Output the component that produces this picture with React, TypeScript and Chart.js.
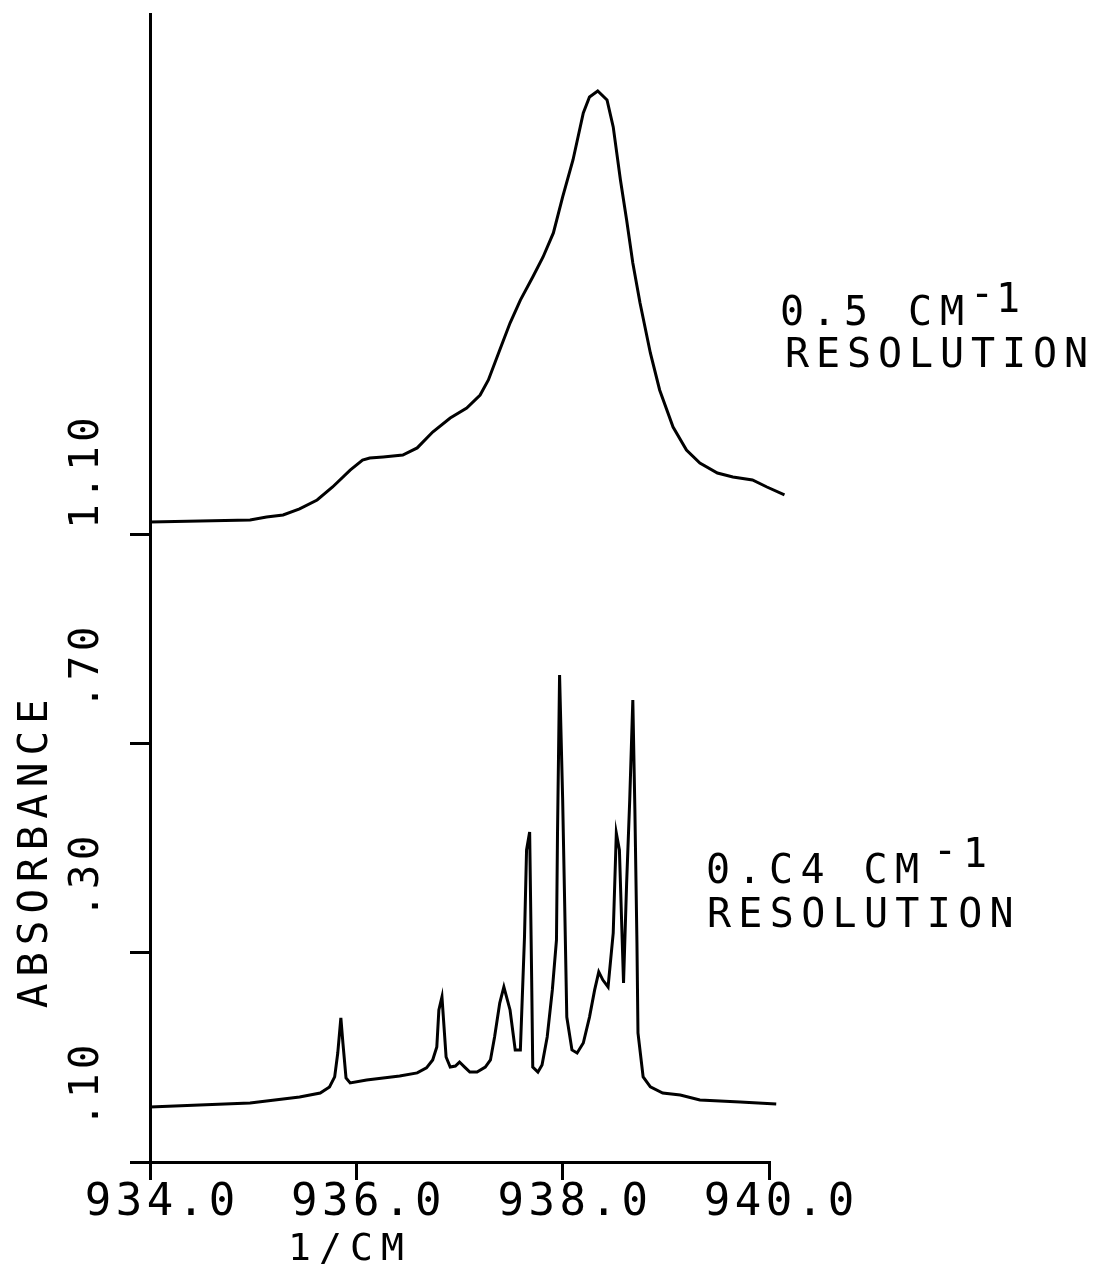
import React, { useEffect, useRef } from "react";
import { Chart, registerables } from "chart.js";

Chart.register(...registerables);

// ---- data (wavenumber in 1/CM, absorbance in plot units: one unit per y tick) ----
const upperX = [
  934.0, 934.97, 935.13, 935.29, 935.45, 935.62, 935.77, 935.94, 936.06, 936.13,
  936.26, 936.45, 936.59, 936.74, 936.91, 937.07, 937.2, 937.28, 937.39, 937.49,
  937.59, 937.71, 937.81, 937.91, 938.0, 938.1, 938.2, 938.26, 938.34, 938.43,
  938.49, 938.56, 938.62, 938.68, 938.75, 938.85, 938.94, 939.07, 939.2, 939.33,
  939.5, 939.65, 939.84, 939.98, 940.15,
];
const upperY = [
  3.061, 3.07, 3.085, 3.094, 3.123, 3.166, 3.228, 3.309, 3.357, 3.367,
  3.372, 3.381, 3.415, 3.491, 3.558, 3.606, 3.668, 3.74, 3.883, 4.012,
  4.122, 4.232, 4.328, 4.443, 4.615, 4.792, 5.017, 5.093, 5.122, 5.079,
  4.95, 4.696, 4.505, 4.299, 4.108, 3.869, 3.692, 3.515, 3.405, 3.343,
  3.295, 3.276, 3.262, 3.228, 3.19,
];
const lowerX = [
  934.0, 934.48, 934.97, 935.45, 935.65, 935.74, 935.79, 935.82, 935.85, 935.87,
  935.9, 935.94, 936.1, 936.26, 936.42, 936.59, 936.68, 936.74, 936.78, 936.8,
  936.83, 936.85, 936.87, 936.91, 936.96, 937.0, 937.05, 937.1, 937.17, 937.25,
  937.3, 937.34, 937.39, 937.43, 937.49, 937.54, 937.59, 937.63, 937.65, 937.68,
  937.7, 937.71, 937.76, 937.8, 937.85, 937.9, 937.94, 937.95, 937.97, 938.0,
  938.02, 938.04, 938.09, 938.14, 938.2, 938.26, 938.31, 938.35, 938.39, 938.44,
  938.49, 938.52, 938.55, 938.58, 938.59, 938.62, 938.65, 938.68, 938.7, 938.72,
  938.73, 938.78, 938.85, 938.97, 939.14, 939.33, 939.72, 940.07,
];
const lowerY = [
  0.263, 0.273, 0.282, 0.311, 0.33, 0.359, 0.407, 0.521, 0.689, 0.569,
  0.402, 0.378, 0.392, 0.402, 0.411, 0.426, 0.45, 0.488, 0.55, 0.727,
  0.789, 0.646, 0.502, 0.454, 0.459, 0.478, 0.454, 0.43, 0.43, 0.454,
  0.488, 0.598, 0.76, 0.837, 0.727, 0.536, 0.536, 1.076, 1.492, 1.578,
  0.856, 0.454, 0.43, 0.464, 0.598, 0.823, 1.062, 1.573, 2.329, 1.731,
  1.22, 0.693, 0.536, 0.521, 0.569, 0.693, 0.823, 0.909, 0.87, 0.837,
  1.095, 1.573, 1.492, 1.014, 0.856, 1.334, 1.731, 2.209, 1.683, 1.047,
  0.617, 0.407, 0.359, 0.33, 0.32, 0.297, 0.287, 0.277,
];

const xTickValues = [934, 936, 938, 940];
const xTickLabels = ["934.0", "936.0", "938.0", "940.0"];
const yTickValues = [0, 1, 2, 3];
const yTickLabels = [".10", ".30", ".70", "1.10"];
const xTitle = "1/CM";
const yTitle = "ABSORBANCE";
const upperNote = ["0.5 CM", "RESOLUTION"];
const lowerNote = ["0.C4 CM", "RESOLUTION"];
const noteSup = ["-", "1"];

const FONT = '"DejaVu Sans Mono", monospace';

function drawRow(ctx: CanvasRenderingContext2D, text: string, x0: number, pitch: number, baseY: number) {
  for (let i = 0; i < text.length; i++) {
    if (text[i] === " ") continue;
    ctx.fillText(text[i], x0 + i * pitch, baseY);
  }
}

function drawRowUp(ctx: CanvasRenderingContext2D, text: string, baseX: number, y0: number, pitch: number) {
  // text reads bottom-to-top; y0 = centre of first character
  for (let i = 0; i < text.length; i++) {
    if (text[i] === " ") continue;
    ctx.save();
    ctx.translate(baseX, y0 - i * pitch);
    ctx.rotate(-Math.PI / 2);
    ctx.fillText(text[i], 0, 0);
    ctx.restore();
  }
}

const textPlugin = {
  id: "plotterText",
  beforeDraw(chart: any) {
    const ctx = chart.ctx;
    ctx.save();
    ctx.fillStyle = "#fff";
    ctx.fillRect(0, 0, chart.width, chart.height);
    ctx.restore();
  },
  afterDraw(chart: any) {
    const ctx: CanvasRenderingContext2D = chart.ctx;
    const xs = chart.scales.x;
    const ys = chart.scales.y;
    const area = chart.chartArea;
    ctx.save();
    ctx.fillStyle = "#000";
    ctx.textAlign = "center";
    ctx.textBaseline = "alphabetic";

    // x tick labels
    ctx.font = `44px ${FONT}`;
    xTickValues.forEach((v, i) => {
      const px = xs.getPixelForValue(v);
      drawRow(ctx, xTickLabels[i], px + 10 - 2 * 31, 31, area.bottom + 53);
    });

    // x title
    ctx.font = `38px ${FONT}`;
    drawRow(ctx, xTitle, xs.getPixelForValue(936) - 57, 31, area.bottom + 98);

    // y tick labels (rotated)
    ctx.font = `41px ${FONT}`;
    yTickValues.forEach((v, i) => {
      const py = ys.getPixelForValue(v);
      const lab = yTickLabels[i];
      const n = lab.length;
      drawRowUp(ctx, lab, area.left - 52, py - 105 + (n - 1) * 29, 29);
    });

    // y title
    ctx.font = `41px ${FONT}`;
    drawRowUp(ctx, yTitle, area.left - 103, ys.getPixelForValue(0) - 166, 31.6);

    // annotations
    ctx.font = `40px ${FONT}`;
    drawRow(ctx, upperNote[0], 792, 32, 325);
    drawRow(ctx, noteSup[0], 982, 0, 307);
    drawRow(ctx, noteSup[1], 1008, 0, 312);
    drawRow(ctx, upperNote[1], 797, 31, 367);

    drawRow(ctx, lowerNote[0], 718, 31.5, 883);
    drawRow(ctx, noteSup[0], 945, 0, 864);
    drawRow(ctx, noteSup[1], 975, 0, 867);
    drawRow(ctx, lowerNote[1], 719, 31.4, 927);

    ctx.restore();
  },
};

export default function App() {
  const ref = useRef<HTMLCanvasElement | null>(null);
  useEffect(() => {
    if (!ref.current) return;
    const mk = (xs: number[], ys: number[]) => xs.map((x, i) => ({ x, y: ys[i] }));
    const chart = new Chart(ref.current, {
      type: "line",
      data: {
        datasets: [
          {
            data: mk(upperX, upperY),
            borderColor: "#000",
            borderWidth: 3,
            pointRadius: 0,
            tension: 0,
            fill: false,
            clip: false as any,
          },
          {
            data: mk(lowerX, lowerY),
            borderColor: "#000",
            borderWidth: 3,
            pointRadius: 0,
            tension: 0,
            fill: false,
            clip: false as any,
          },
        ],
      },
      options: {
        animation: false,
        responsive: false,
        maintainAspectRatio: false,
        devicePixelRatio: 1,
        events: [],
        layout: { padding: { left: 130, right: 328, top: 14, bottom: 88 } },
        plugins: { legend: { display: false }, tooltip: { enabled: false }, title: { display: false } },
        scales: {
          x: {
            type: "linear",
            min: 934,
            max: 940,
            afterBuildTicks: (axis: any) => {
              axis.ticks = xTickValues.map((v) => ({ value: v }));
            },
            ticks: { display: false },
            grid: { drawOnChartArea: false, drawTicks: true, tickLength: 18, color: "#000", lineWidth: 3 },
            border: { display: true, color: "#000", width: 3 },
          },
          y: {
            type: "linear",
            min: 0,
            max: 5.49,
            afterBuildTicks: (axis: any) => {
              axis.ticks = yTickValues.map((v) => ({ value: v }));
            },
            ticks: { display: false },
            grid: { drawOnChartArea: false, drawTicks: true, tickLength: 20, color: "#000", lineWidth: 3 },
            border: { display: true, color: "#000", width: 3 },
          },
        },
      },
      plugins: [textPlugin],
    });
    return () => chart.destroy();
  }, []);
  return (
    <div style={{ position: "absolute", left: 0, top: 0, width: 1097, height: 1268, background: "#fff" }}>
      <canvas ref={ref} width={1097} height={1268} style={{ display: "block", width: 1097, height: 1268 }} />
    </div>
  );
}
